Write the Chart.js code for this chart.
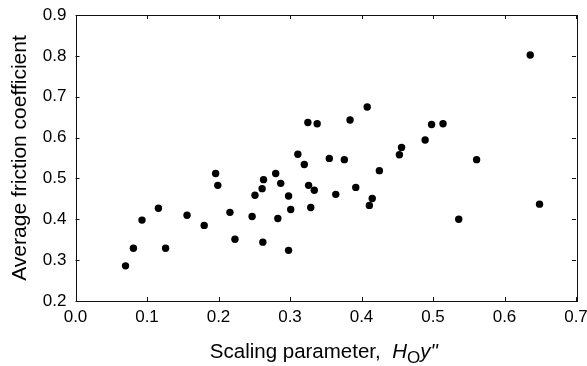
<!DOCTYPE html>
<html>
<head>
<meta charset="utf-8">
<script src="https://cdn.jsdelivr.net/npm/chart.js@4/dist/chart.umd.min.js"></script>
<style>
  body { margin: 0; background: #fff; }
  canvas { display: block; }
</style>
</head>
<body>
<canvas id="graphique" width="587" height="366"></canvas>
<script>
// Valeurs
const scalingParam = [0.070, 0.081, 0.093, 0.116, 0.126, 0.156, 0.180, 0.196, 0.199, 0.216,
    0.223, 0.247, 0.251, 0.261, 0.263, 0.262, 0.280, 0.283, 0.287, 0.298,
    0.298, 0.301, 0.311, 0.320, 0.325, 0.326, 0.329, 0.334, 0.338, 0.355,
    0.364, 0.376, 0.384, 0.392, 0.408, 0.411, 0.415, 0.425, 0.453, 0.456,
    0.489, 0.498, 0.514, 0.536, 0.561, 0.636, 0.649];
const frictionCoef = [0.286, 0.329, 0.398, 0.427, 0.329, 0.410, 0.385, 0.512, 0.483, 0.417,
    0.351, 0.407, 0.459, 0.475, 0.497, 0.344, 0.512, 0.402, 0.488, 0.457,
    0.324, 0.424, 0.559, 0.534, 0.637, 0.483, 0.429, 0.471, 0.634, 0.549,
    0.461, 0.546, 0.643, 0.478, 0.675, 0.434, 0.451, 0.519, 0.558, 0.576,
    0.594, 0.632, 0.634, 0.400, 0.546, 0.802, 0.437];

const xMin = 0.0, xMax = 0.7, xStep = 0.1;
const yMin = 0.2, yMax = 0.9, yStep = 0.1;
const yTitle = "Average friction coefficient";

const points = [];
for (let i = 0; i < scalingParam.length; i++) {
    points.push({ x: scalingParam[i], y: frictionCoef[i] });
}

// Cadre et graduations vers l'intérieur
const cadre = {
    id: "cadre",
    afterDraw(chart) {
        const ctx = chart.ctx;
        const a = chart.chartArea;
        const sx = chart.scales.x;
        const sy = chart.scales.y;
        ctx.save();
        ctx.strokeStyle = "#111";
        ctx.lineWidth = 1;
        ctx.strokeRect(Math.round(a.left) + 0.5, Math.round(a.top) + 0.5,
            Math.round(a.right - a.left), Math.round(a.bottom - a.top));
        ctx.beginPath();
        sx.ticks.forEach(t => {
            const x = Math.round(sx.getPixelForValue(t.value)) + 0.5;
            ctx.moveTo(x, a.bottom); ctx.lineTo(x, a.bottom - 4);
            ctx.moveTo(x, a.top); ctx.lineTo(x, a.top + 4);
        });
        sy.ticks.forEach(t => {
            const y = Math.round(sy.getPixelForValue(t.value)) + 0.5;
            ctx.moveTo(a.left, y); ctx.lineTo(a.left + 4, y);
            ctx.moveTo(a.right, y); ctx.lineTo(a.right - 4, y);
        });
        ctx.stroke();
        ctx.restore();
    }
};

// Titre de l'axe x avec indice et italique
const titreX = {
    id: "titreX",
    afterDraw(chart) {
        const ctx = chart.ctx;
        const a = chart.chartArea;
        const morceaux = [
            { text: "Scaling parameter,  ", font: "20.5px 'Liberation Sans', Arial, sans-serif", dy: 0 },
            { text: "H", font: "italic 20.5px 'Liberation Sans', Arial, sans-serif", dy: 0 },
            { text: "O", font: "17px 'Liberation Sans', Arial, sans-serif", dy: 5 },
            { text: "y\"", font: "italic 20.5px 'Liberation Sans', Arial, sans-serif", dy: 0 }
        ];
        ctx.save();
        ctx.fillStyle = "#000";
        ctx.textBaseline = "alphabetic";
        let total = 0;
        for (let m of morceaux) {
            ctx.font = m.font;
            m.w = ctx.measureText(m.text).width;
            total += m.w;
        }
        let x = (a.left + a.right) / 2 - total / 2 - 2;
        for (let m of morceaux) {
            ctx.font = m.font;
            ctx.fillText(m.text, x, 358 + m.dy);
            x += m.w;
        }
        ctx.restore();
    }
};

const config = {
    type: "scatter",
    data: {
        datasets: [{
            data: points,
            backgroundColor: "#000",
            borderWidth: 0,
            pointRadius: 3.7,
            pointHoverRadius: 3.7
        }]
    },
    options: {
        responsive: false,
        animation: false,
        devicePixelRatio: 1,
        layout: { padding: { left: 0, right: 11, top: 15, bottom: 0 } },
        plugins: {
            legend: { display: false },
            tooltip: { enabled: false }
        },
        scales: {
            x: {
                type: "linear",
                min: xMin,
                max: xMax,
                border: { display: false },
                grid: { display: false, drawTicks: false },
                ticks: {
                    stepSize: xStep,
                    padding: 6,
                    color: "#000",
                    font: { family: "'Liberation Sans', Arial, sans-serif", size: 17 },
                    callback: v => v.toFixed(1)
                },
                afterFit: scale => {
                    scale.height = 65;
                    scale.paddingLeft = 0;
                    scale.paddingRight = 0;
                }
            },
            y: {
                type: "linear",
                min: yMin,
                max: yMax,
                border: { display: false },
                grid: { display: false, drawTicks: false },
                ticks: {
                    stepSize: yStep,
                    padding: 9,
                    color: "#000",
                    font: { family: "'Liberation Sans', Arial, sans-serif", size: 17 },
                    callback: v => v.toFixed(1)
                },
                title: {
                    display: true,
                    text: yTitle,
                    color: "#000",
                    padding: { top: 8, bottom: 0 },
                    font: { family: "'Liberation Sans', Arial, sans-serif", size: 21 }
                },
                afterFit: scale => {
                    scale.width = 75.5;
                    scale.paddingTop = 0;
                    scale.paddingBottom = 0;
                }
            }
        }
    },
    plugins: [cadre, titreX]
};

const graphique = new Chart(document.querySelector("#graphique"), config);
</script>
</body>
</html>
